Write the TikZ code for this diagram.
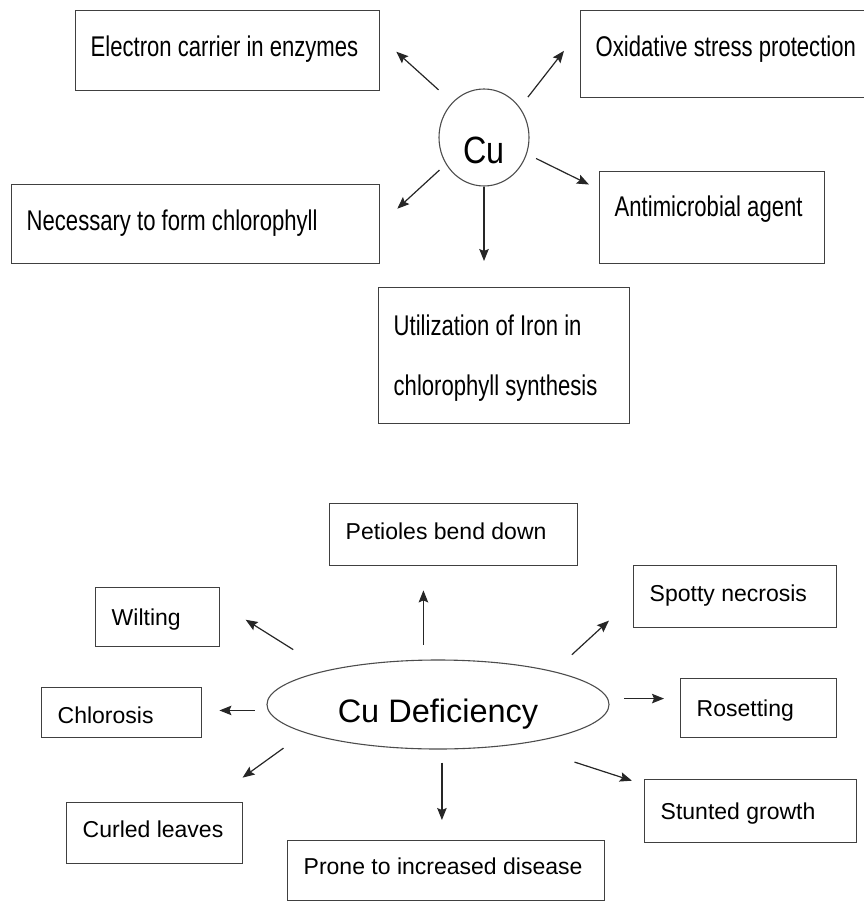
\documentclass[tikz,border=0pt]{standalone}
\usepackage{fontspec}
\setmainfont{Liberation Sans}
\newfontfamily\narrowsans[FakeStretch=0.775]{Liberation Sans}
\newfontfamily\cusans[FakeStretch=0.85]{Liberation Sans}
\usetikzlibrary{
    arrows.meta,
    shapes.geometric
}
\tikzset{
  topbox/.style 2 args={draw=black!75, line width=1.4pt, rectangle, anchor=north west,
    inner xsep=15pt, inner ysep=0pt, minimum width=#1pt, minimum height=#2pt,
    text width=#1pt-30pt, align=flush left, font=\narrowsans\fontsize{28.5}{60}\selectfont,
    execute at begin node={\spaceskip=0.215em plus 0.02em\relax},
    text height=20.5pt, text depth=0pt},
  lowbox/.style 2 args={draw=black!75, line width=1.4pt, rectangle, anchor=north west,
    inner xsep=16pt, inner ysep=0pt, minimum width=#1pt, minimum height=#2pt,
    text width=#1pt-32pt, align=flush left, font=\fontsize{23}{28}\selectfont,
    text height=16.5pt, text depth=0pt},
  hub/.style={ellipse, draw=black!70, line width=1.1pt, inner sep=0pt, text depth=0pt},
  arr/.style={-{Stealth[length=12pt,width=9.5pt,inset=2pt]}, line width=1.2pt, draw=black!85}
}

\begin{document}
\begin{tikzpicture}[x=1pt,y=1pt]
\useasboundingbox (0,0) rectangle (864,-902);

% roles of copper
\node[hub, minimum width=90pt, minimum height=97pt, text height=51pt,
  font=\cusans\fontsize{38}{40}\selectfont] (cu) at (484,-137.5) {Cu};

\node[topbox={304}{80}, text depth=8pt] (ecarrier) at (75,-10) {Electron carrier in enzymes};
\node[topbox={368}{79}, text depth=7pt] (chloro) at (11,-184) {Necessary to form chlorophyll};
\node[topbox={300}{87}, text depth=15pt] (oxid) at (580,-10) {Oxidative stress protection};
\node[topbox={225}{92}, text depth=22pt] (antimic) at (599,-171) {Antimicrobial agent};
\node[topbox={251}{136}, text depth=60pt] (ironuse) at (378,-287)
  {Utilization of Iron in\\chlorophyll synthesis};

\draw[arr, shorten <=18.5pt, shorten >=21.4pt] (cu.132) -- (ecarrier.5);
\draw[arr, shorten <=8.6pt, shorten >=22.9pt] (cu.215) -- (chloro.0);
\draw[arr, shorten <=13pt, shorten >=26pt] (cu.40) -- (oxid.171.3);
\draw[arr, shorten <=10.2pt, shorten >=11.2pt] (cu.339) -- (antimic.166.5);
\draw[arr, shorten >=26pt] (cu.south) -- (cu.south |- ironuse.north);

% signs of deficiency
\node[hub, minimum width=342pt, minimum height=89pt, text height=35.3pt,
  font=\fontsize{32.5}{36}\selectfont] (def) at (438,-704.5) {Cu Deficiency};

\node[lowbox={248}{62}, text depth=7pt] (petioles) at (329,-503) {Petioles bend down};
\node[lowbox={124}{59}] (wilting) at (95,-587) {Wilting};
\node[lowbox={160}{50}, text height=22.5pt] (chlorosis) at (41,-687) {Chlorosis};
\node[lowbox={176}{61}, text depth=7pt] (curled) at (66,-802) {Curled leaves};
\node[lowbox={317}{60}, text depth=8pt] (prone) at (287,-840) {Prone to increased disease};
\node[lowbox={203}{62}, text depth=6pt] (spotty) at (633,-565) {Spotty necrosis};
\node[lowbox={156}{59}] (rosetting) at (680,-678) {Rosetting};
\node[lowbox={212}{63}] (stunted) at (644,-779) {Stunted growth};

\draw[arr, shorten <=15pt, shorten >=24pt] (def.108) -- (def.108 |- petioles.south);
\draw[arr, shorten <=39pt, shorten >=29.8pt] (def.163.6) -- (wilting.12.5);
\draw[arr, shorten <=13.4pt, shorten >=17pt] (def.182.5) -- (def.182.5 -| chlorosis.east);
\draw[arr, shorten <=26.1pt, shorten >=41.7pt] (def.192.7) -- (curled.30.8);
\draw[arr, shorten <=13pt, shorten >=20pt] (def.275) -- (def.275 |- prone.north);
\draw[arr, shorten <=24.5pt, shorten >=32.7pt] (def.16) -- (spotty.181.1);
\draw[arr, shorten <=16pt, shorten >=16pt] (def.2.2) -- (def.2.2 -| rosetting.west);
\draw[arr, shorten <=58pt, shorten >=12.7pt] (def.334.9) -- (stunted.166.5);
\end{tikzpicture}
\end{document}
